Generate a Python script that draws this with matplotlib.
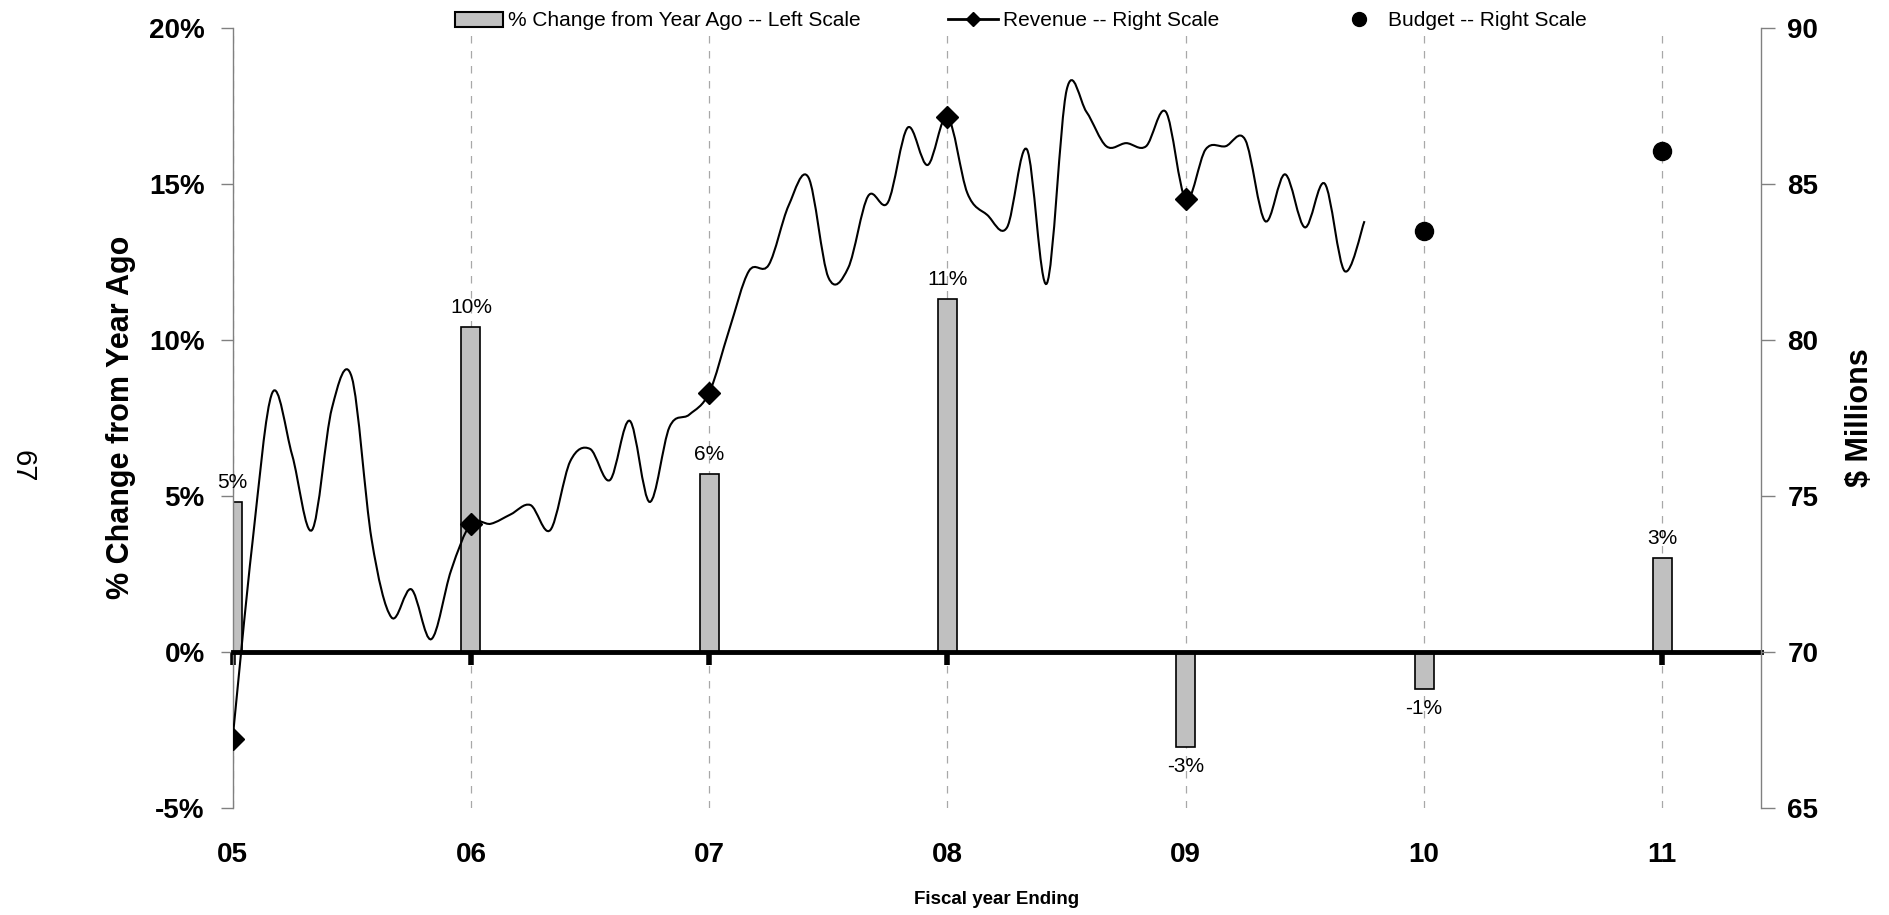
import numpy as np
import matplotlib
matplotlib.use("Agg")
import matplotlib.pyplot as plt
from matplotlib.path import Path
from matplotlib.patches import PathPatch, Patch
from matplotlib.lines import Line2D

plt.rcParams['font.family'] = ['Liberation Sans', 'DejaVu Sans']

# fiscal years (05 .. 11) and their tick labels
years = [5, 6, 7, 8, 9, 10, 11]
year_labels = ["05", "06", "07", "08", "09", "10", "11"]

# % change from year ago (left scale)
pct_change = [4.8, 10.4, 5.7, 11.3, -3.06, -1.2, 3.0]

# monthly revenue, $ millions (right scale), starting at FY05 end
revenue = [67.2, 73.5, 78.3, 76.3, 73.9, 77.8, 78.8, 73.6, 71.1, 72.0, 70.4, 72.6,
           74.1, 74.1, 74.4, 74.7, 73.9, 76.1, 76.5, 75.5, 77.4, 74.8, 77.2, 77.6,
           78.3, 80.3, 82.2, 82.4, 84.3, 85.2, 82.0, 82.3, 84.6, 84.4, 86.8, 85.6,
           87.15, 84.7, 84.0, 83.6, 86.1, 81.8, 88.0, 87.3, 86.2, 86.3, 86.2, 87.3,
           84.5, 86.1, 86.2, 86.4, 83.8, 85.3, 83.6, 85.0, 82.2, 83.8]

# budget, $ millions (right scale)
budget_years = [10, 11]
budget = [83.5, 86.05]

W, H = 1890, 915
fig = plt.figure(figsize=(W / 100, H / 100), dpi=100)
ax = fig.add_axes([232.6 / W, 1 - 807.7 / H, (1761 - 232.6) / W, (807.7 - 27.7) / H])
ax2 = ax.twinx()

gray_axis = "#808080"

# spines first: moving a spine resets its ticks
for s in ("top", "right"):
    ax.spines[s].set_visible(False)
ax.spines["left"].set_color(gray_axis)
ax.spines["left"].set_linewidth(1)
ax.spines["bottom"].set_position(("data", 0))
ax.spines["bottom"].set_linewidth(3.5)
ax.spines["bottom"].set_color("black")

# --- left scale: bars ---
ax.set_axisbelow(True)
ax.grid(axis="x", color="#a8a8a8", linestyle=(0, (6, 6)), linewidth=0.9)
bars = ax.bar(years, pct_change, width=0.08, color="#c0c0c0",
              edgecolor="black", linewidth=1.2)
ax.bar_label(bars, fmt="{:.0f}%", padding=7, fontsize=15)

ax.set_xlim(5, 11.414)
ax.set_ylim(-5, 20)
yt = list(range(-5, 21, 5))
ax.set_yticks(yt, [f"{v}%" for v in yt], fontsize=20, fontweight="bold")
ax.set_xticks(years, year_labels, fontsize=20, fontweight="bold")
ax.tick_params(axis="y", length=9, width=1, color=gray_axis, pad=11)
ax.tick_params(axis="x", length=9, width=4, color="black", pad=128)

ax.set_ylabel("% Change from Year Ago", fontsize=22, fontweight="bold")
ax.yaxis.set_label_coords(-0.0629, 0.5)
ax.set_xlabel("Fiscal year Ending", fontsize=13.5, fontweight="bold")
ax.xaxis.set_label_coords(0.5, -0.1068)

# --- right scale: revenue (smoothed) and budget ---
xs = 5 + np.arange(len(revenue)) / 12.0
pts = np.column_stack([xs, revenue])
n = len(pts)
verts = [pts[0]]
codes = [Path.MOVETO]
for i in range(n - 1):
    p0 = pts[max(i - 1, 0)]
    p1 = pts[i]
    p2 = pts[i + 1]
    p3 = pts[min(i + 2, n - 1)]
    verts += [p1 + (p2 - p0) / 6.0, p2 - (p3 - p1) / 6.0, p2]
    codes += [Path.CURVE4] * 3
ax2.add_patch(PathPatch(Path(verts, codes), fill=False, edgecolor="black", linewidth=1.5))
ax2.plot(xs, revenue, linestyle="none", marker="D", markevery=12,
         markersize=11, color="black")
ax2.plot(budget_years, budget, linestyle="none", marker="o", markersize=13, color="black")

ax2.set_ylim(65, 90)
rt = list(range(65, 91, 5))
ax2.set_yticks(rt, [str(v) for v in rt], fontsize=20, fontweight="bold")
ax2.tick_params(axis="y", length=10, width=1, color=gray_axis, pad=9)
for s in ("top", "left", "bottom"):
    ax2.spines[s].set_visible(False)
ax2.spines["right"].set_color(gray_axis)
ax2.spines["right"].set_linewidth(1)
ax2.set_ylabel("$ Millions", fontsize=22, fontweight="bold")
ax2.yaxis.set_label_coords(1.0547, 0.5)

# --- legend (three entries along the top) ---
ly = 1 - 21 / H
common = dict(loc="center left", frameon=False, fontsize=15, borderpad=0,
              borderaxespad=0, handletextpad=0.25)
fig.legend([Patch(facecolor="#c0c0c0", edgecolor="black", linewidth=1.5)],
           ["% Change from Year Ago -- Left Scale"],
           bbox_to_anchor=(455 / W, ly), handlelength=2.3, handleheight=0.7, **common)
fig.legend([Line2D([], [], color="black", linewidth=2, marker="D", markersize=7)],
           ["Revenue -- Right Scale"],
           bbox_to_anchor=(948 / W, ly), handlelength=2.4, **common)
fig.legend([Line2D([], [], color="black", linestyle="none", marker="o", markersize=10)],
           ["Budget -- Right Scale"],
           bbox_to_anchor=(1335 / W, ly), handlelength=2.3, **common)

# page number on the side
fig.text(22 / W, 1 - 466 / H, "67", rotation=-90, fontsize=21, ha="center", va="center")

fig.savefig("out.png", dpi=100)
